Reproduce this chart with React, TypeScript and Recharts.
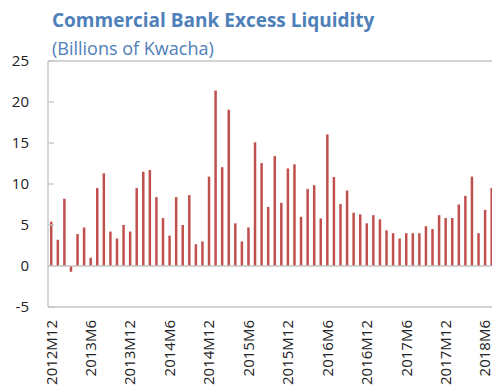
import { BarChart, Bar, XAxis, YAxis, ReferenceLine } from 'recharts';

// Monthly observations, December 2012 to July 2018
const months = [
  '2012M12',
  '2013M1', '2013M2', '2013M3', '2013M4', '2013M5', '2013M6',
  '2013M7', '2013M8', '2013M9', '2013M10', '2013M11', '2013M12',
  '2014M1', '2014M2', '2014M3', '2014M4', '2014M5', '2014M6',
  '2014M7', '2014M8', '2014M9', '2014M10', '2014M11', '2014M12',
  '2015M1', '2015M2', '2015M3', '2015M4', '2015M5', '2015M6',
  '2015M7', '2015M8', '2015M9', '2015M10', '2015M11', '2015M12',
  '2016M1', '2016M2', '2016M3', '2016M4', '2016M5', '2016M6',
  '2016M7', '2016M8', '2016M9', '2016M10', '2016M11', '2016M12',
  '2017M1', '2017M2', '2017M3', '2017M4', '2017M5', '2017M6',
  '2017M7', '2017M8', '2017M9', '2017M10', '2017M11', '2017M12',
  '2018M1', '2018M2', '2018M3', '2018M4', '2018M5', '2018M6',
  '2018M7',
];

const excessLiquidity = [
  5.4,
  3.2, 8.2, -0.7, 3.9, 4.7, 1.0,
  9.5, 11.3, 4.2, 3.35, 5.0, 4.2,
  9.5, 11.5, 11.7, 8.4, 5.85, 3.7,
  8.4, 5.0, 8.65, 2.65, 3.0, 10.9,
  21.4, 12.05, 19.05, 5.2, 3.0, 4.7,
  15.1, 12.55, 7.2, 13.4, 7.7, 11.9,
  12.4, 6.0, 9.4, 9.85, 5.8, 16.05,
  10.85, 7.55, 9.2, 6.5, 6.3, 5.2,
  6.2, 5.7, 4.35, 4.0, 3.35, 4.0,
  4.0, 4.0, 4.85, 4.5, 6.2, 5.85,
  5.85, 7.5, 8.55, 10.9, 4.0, 6.85,
  9.5,
];

const yTicks = [-5, 0, 5, 10, 15, 20, 25];

const data = months.map((month, i) => ({ month, value: excessLiquidity[i] }));

const FONT = '"Open Sans", sans-serif';
const BLUE = '#4e80b9';
const GREY = '#c4c4c4';

const MonthTick = ({ x, y, payload }: any) => (
  <text
    x={x}
    y={y}
    transform={`rotate(-90 ${x} ${y})`}
    textAnchor="end"
    dy="0.35em"
    fontFamily={FONT}
    fontSize={15}
    fill="#222"
  >
    {payload.value}
  </text>
);

export default function App() {
  return (
    <div style={{ position: 'absolute', left: 0, top: 0, width: 492, height: 385, overflow: 'hidden', background: '#fff' }}>
      <svg width={492} height={70} style={{ position: 'absolute', left: 0, top: 0 }}>
        <text x={52} y={27} fontFamily={FONT} fontWeight={700} fontSize={19} fill={BLUE}>
          Commercial Bank Excess Liquidity
        </text>
        <text x={52} y={55} fontFamily={FONT} fontSize={18} fill={BLUE}>
          (Billions of Kwacha)
        </text>
      </svg>
      <div style={{ position: 'absolute', left: 0, top: 0 }}>
        <BarChart
          width={495}
          height={385}
          data={data}
          margin={{ top: 61, right: 0, bottom: 0, left: 0 }}
          barCategoryGap={0}
        >
          <ReferenceLine y={25} stroke={GREY} strokeWidth={1.3} />
          <ReferenceLine y={0} stroke={GREY} strokeWidth={1.5} />
          <XAxis
            dataKey="month"
            interval={5}
            height={78}
            tickLine={false}
            tickSize={0}
            tickMargin={13}
            axisLine={{ stroke: GREY, strokeWidth: 1.3 }}
            tick={<MonthTick />}
          />
          <YAxis
            width={48}
            domain={[-5, 25]}
            ticks={yTicks}
            interval={0}
            tickSize={-6}
            tickMargin={25}
            axisLine={{ stroke: GREY, strokeWidth: 1.3 }}
            tickLine={{ stroke: GREY, strokeWidth: 1.3 }}
            tick={{ fontFamily: FONT, fontSize: 15, fill: '#222' }}
          />
          <Bar dataKey="value" fill="#c0504d" barSize={2.5} isAnimationActive={false} />
        </BarChart>
      </div>
    </div>
  );
}
